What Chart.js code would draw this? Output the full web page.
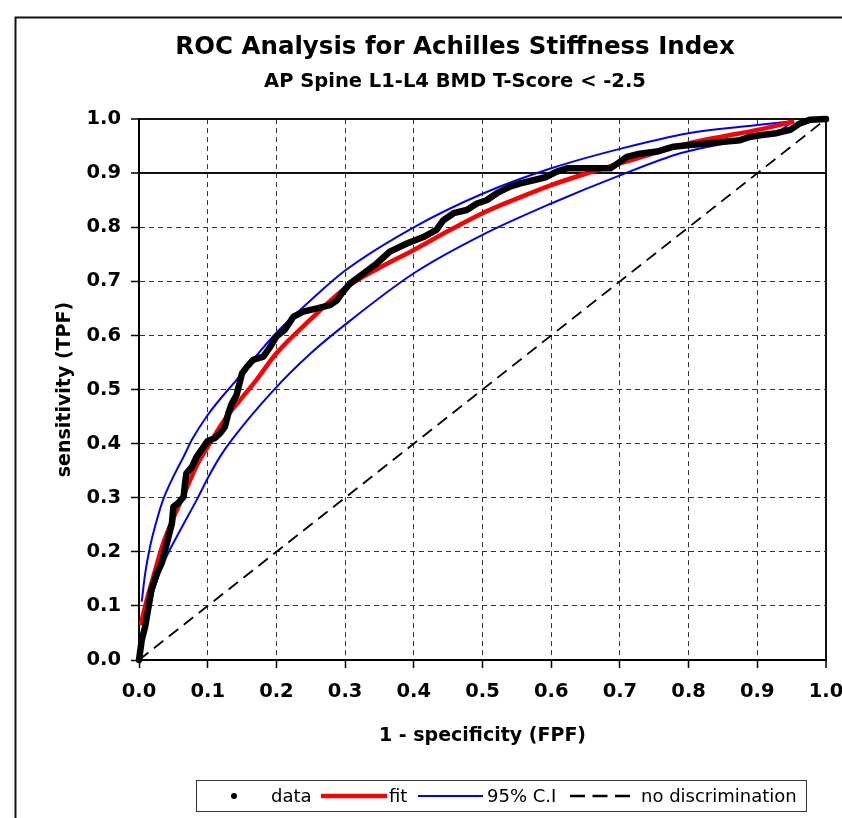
<!DOCTYPE html>
<html>
<head>
<meta charset="utf-8">
<script src="https://cdn.jsdelivr.net/npm/chart.js@4.4.0/dist/chart.umd.min.js"></script>
<style>
html, body { margin: 0; padding: 0; background: #ffffff; }
canvas { display: block; }
</style>
</head>
<body>
<canvas id="c" width="842" height="818"></canvas>
<script>
// ---- data ----
const titleText = 'ROC Analysis for Achilles Stiffness Index';
const subtitleText = 'AP Spine L1-L4 BMD T-Score < -2.5';
const xTitle = '1 - specificity (FPF)';
const yTitle = 'sensitivity (TPF)';
const tickLabels = ['0.0','0.1','0.2','0.3','0.4','0.5','0.6','0.7','0.8','0.9','1.0'];
const legendLabels = ['data', 'fit', '95% C.I', 'no discrimination'];

const dataFPF = [0, 0.004, 0.009, 0.014, 0.018, 0.026, 0.033, 0.038, 0.043, 0.048, 0.050, 0.057, 0.065, 0.067, 0.069, 0.077, 0.084, 0.094, 0.100, 0.110, 0.118, 0.125, 0.130, 0.135, 0.142, 0.147, 0.150, 0.157, 0.166, 0.181, 0.191, 0.200, 0.212, 0.225, 0.239, 0.259, 0.278, 0.288, 0.297, 0.307, 0.327, 0.346, 0.365, 0.390, 0.414, 0.433, 0.443, 0.458, 0.477, 0.492, 0.506, 0.521, 0.540, 0.555, 0.574, 0.593, 0.608, 0.623, 0.656, 0.686, 0.700, 0.710, 0.729, 0.754, 0.778, 0.802, 0.826, 0.851, 0.875, 0.889, 0.904, 0.928, 0.948, 0.962, 0.977, 1.000];
const dataTPF = [0, 0.037, 0.062, 0.099, 0.129, 0.160, 0.179, 0.203, 0.228, 0.253, 0.283, 0.290, 0.302, 0.327, 0.345, 0.357, 0.376, 0.394, 0.405, 0.410, 0.419, 0.431, 0.456, 0.474, 0.490, 0.515, 0.530, 0.542, 0.555, 0.561, 0.579, 0.598, 0.610, 0.635, 0.644, 0.650, 0.656, 0.665, 0.681, 0.696, 0.715, 0.733, 0.755, 0.770, 0.782, 0.795, 0.813, 0.826, 0.832, 0.844, 0.850, 0.863, 0.875, 0.881, 0.887, 0.893, 0.903, 0.909, 0.909, 0.909, 0.921, 0.930, 0.936, 0.940, 0.949, 0.952, 0.955, 0.958, 0.961, 0.967, 0.970, 0.974, 0.980, 0.992, 0.999, 1.000];

const fitFPF = [0.003, 0.010, 0.020, 0.035, 0.050, 0.065, 0.085, 0.100, 0.125, 0.150, 0.171, 0.200, 0.250, 0.300, 0.350, 0.400, 0.450, 0.500, 0.550, 0.600, 0.650, 0.700, 0.750, 0.800, 0.850, 0.900, 0.951];
const fitTPF = [0.068, 0.105, 0.150, 0.215, 0.262, 0.305, 0.362, 0.394, 0.445, 0.485, 0.518, 0.567, 0.630, 0.687, 0.725, 0.758, 0.793, 0.826, 0.853, 0.878, 0.899, 0.918, 0.937, 0.955, 0.968, 0.980, 0.995];

const ciUpperFPF = [0.004, 0.009, 0.016, 0.026, 0.035, 0.050, 0.065, 0.077, 0.100, 0.142, 0.200, 0.250, 0.300, 0.400, 0.500, 0.600, 0.700, 0.800, 0.900, 0.951];
const ciUpperTPF = [0.108, 0.160, 0.209, 0.259, 0.296, 0.339, 0.376, 0.407, 0.453, 0.518, 0.605, 0.665, 0.720, 0.800, 0.862, 0.909, 0.945, 0.974, 0.989, 0.996];

const ciLowerFPF = [0.005, 0.012, 0.023, 0.040, 0.060, 0.084, 0.100, 0.118, 0.135, 0.196, 0.250, 0.300, 0.400, 0.500, 0.600, 0.700, 0.788, 0.875, 0.933, 0.951];
const ciLowerTPF = [0.040, 0.085, 0.136, 0.191, 0.240, 0.296, 0.336, 0.376, 0.407, 0.499, 0.567, 0.620, 0.715, 0.786, 0.844, 0.896, 0.937, 0.961, 0.979, 0.995];

const diagFPF = [0, 1];
const diagTPF = [0, 1];

// ---- helpers ----
const pts = (xs, ys) => xs.map((x, i) => ({ x: x, y: ys[i] }));
const near = (a, b) => Math.abs(a - b) < 1e-6;

Chart.defaults.font.family = '"DejaVu Sans", "Liberation Sans", Arial, sans-serif';
Chart.defaults.color = '#000000';

const FRAME = { left: 15.5, top: 17.5, width: 2, color: '#111111' };
const LEGEND = {
  box: { x: 196.5, y: 780.5, w: 610, h: 31 },
  cy: 796,
  font: '18px "DejaVu Sans", "Liberation Sans", Arial, sans-serif',
  items: [
    { label: 0, ds: 0, kind: 'dot', x1: 234, x2: 234, tx: 271 },
    { label: 1, ds: 1, kind: 'line', x1: 321, x2: 387, tx: 389 },
    { label: 2, ds: 2, kind: 'line', x1: 418, x2: 483, tx: 487 },
    { label: 3, ds: 4, kind: 'line', x1: 570, x2: 630, tx: 641, dash: [15, 7.5] }
  ]
};

const framePlugin = {
  id: 'frame',
  beforeDraw(chart) {
    const ctx = chart.ctx;
    ctx.save();
    ctx.fillStyle = '#ffffff';
    ctx.fillRect(0, 0, chart.width, chart.height);
    ctx.strokeStyle = FRAME.color;
    ctx.lineWidth = FRAME.width;
    ctx.beginPath();
    ctx.moveTo(FRAME.left, chart.height + 2);
    ctx.lineTo(FRAME.left, FRAME.top);
    ctx.lineTo(chart.width + 2, FRAME.top);
    ctx.stroke();
    ctx.restore();
  }
};

const legendPlugin = {
  id: 'boxLegend',
  afterDraw(chart) {
    const ctx = chart.ctx;
    const L = LEGEND;
    ctx.save();
    ctx.strokeStyle = '#333333';
    ctx.lineWidth = 1;
    ctx.strokeRect(L.box.x, L.box.y, L.box.w, L.box.h);
    ctx.font = L.font;
    ctx.textBaseline = 'middle';
    ctx.textAlign = 'left';
    L.items.forEach(it => {
      const ds = chart.data.datasets[it.ds];
      ctx.save();
      if (it.kind === 'dot') {
        ctx.fillStyle = ds.borderColor;
        ctx.beginPath();
        ctx.arc(it.x1, L.cy, 3, 0, Math.PI * 2);
        ctx.fill();
      } else {
        ctx.strokeStyle = ds.borderColor;
        ctx.lineWidth = ds.legendWidth || ds.borderWidth;
        ctx.setLineDash(it.dash || ds.borderDash || []);
        ctx.beginPath();
        ctx.moveTo(it.x1, L.cy);
        ctx.lineTo(it.x2, L.cy);
        ctx.stroke();
      }
      ctx.restore();
      ctx.fillStyle = '#000000';
      ctx.fillText(legendLabels[it.label], it.tx, L.cy + 1);
    });
    ctx.restore();
  }
};

const isStrong = (c) => c.tick && (near(c.tick.value, 1) || (near(c.tick.value, 0.9) && c.scale.axis === 'y'));
const gridWidth = (c) => isStrong(c) ? 2 : 1;
const gridColor = (c) => isStrong(c) ? '#111111' : '#333333';
const gridDash = (c) => (!c.tick || isStrong(c)) ? [] : [5, 4];

const tickFont = { size: 19.5, weight: 'bold' };
const axisTitleFont = { size: 19, weight: 'bold' };

new Chart(document.getElementById('c'), {
  type: 'scatter',
  data: {
    datasets: [
      { label: legendLabels[0], data: pts(dataFPF, dataTPF), showLine: true, borderColor: '#000000', backgroundColor: '#000000', borderWidth: 6.5, pointRadius: 0, borderJoinStyle: 'round', borderCapStyle: 'round', tension: 0, clip: false, order: 1 },
      { label: legendLabels[1], data: pts(fitFPF, fitTPF), showLine: true, borderColor: '#ff0000', backgroundColor: '#ff0000', borderWidth: 4.5, pointRadius: 0, cubicInterpolationMode: 'monotone', borderCapStyle: 'round', order: 2 },
      { label: legendLabels[2], data: pts(ciUpperFPF, ciUpperTPF), showLine: true, borderColor: '#0000ff', backgroundColor: '#0000ff', borderWidth: 2, pointRadius: 0, cubicInterpolationMode: 'monotone', order: 3 },
      { label: legendLabels[2] + ' (lower)', data: pts(ciLowerFPF, ciLowerTPF), showLine: true, borderColor: '#0000ff', backgroundColor: '#0000ff', borderWidth: 2, pointRadius: 0, cubicInterpolationMode: 'monotone', order: 3 },
      { label: legendLabels[3], data: pts(diagFPF, diagTPF), showLine: true, borderColor: '#000000', backgroundColor: '#000000', borderWidth: 1.8, legendWidth: 2.5, borderDash: [12, 7], pointRadius: 0, clip: false, order: 4 }
    ]
  },
  options: {
    responsive: false,
    animation: false,
    devicePixelRatio: 1,
    events: [],
    layout: { padding: { left: 68, right: 0, top: 0, bottom: 0 } },
    plugins: {
      legend: { display: false },
      tooltip: { enabled: false },
      title: { display: true, text: titleText, color: '#000000', font: { size: 24.5, weight: 'bold' }, padding: { top: 33, bottom: 0 } },
      subtitle: { display: true, text: subtitleText, color: '#000000', font: { size: 19.5, weight: 'bold' }, padding: { top: 8, bottom: 25.3 } }
    },
    scales: {
      x: {
        type: 'linear', position: 'bottom', min: 0, max: 1,
        ticks: { stepSize: 0.1, autoSkip: false, maxRotation: 0, padding: 12, color: '#000000', font: tickFont,
                 callback: (v, i) => tickLabels[i] },
        grid: { color: gridColor, lineWidth: gridWidth, drawTicks: true, tickLength: 8, tickColor: '#000000', tickWidth: 1.5, tickBorderDash: [] },
        border: { display: true, color: '#000000', width: 2, dash: gridDash },
        title: { display: true, text: xTitle, color: '#000000', font: axisTitleFont, padding: { top: 0, bottom: 71 } },
        afterFit(s) { s.height = 158; s.paddingLeft = 0; s.paddingRight = 16; }
      },
      y: {
        type: 'linear', position: 'left', min: 0, max: 1,
        ticks: { stepSize: 0.1, autoSkip: false, padding: 10, color: '#000000', font: tickFont,
                 callback: (v, i) => tickLabels[i] },
        grid: { color: gridColor, lineWidth: gridWidth, drawTicks: true, tickLength: 8, tickColor: '#000000', tickWidth: 1.5, tickBorderDash: [] },
        border: { display: true, color: '#000000', width: 2, dash: gridDash },
        title: { display: true, text: yTitle, color: '#000000', font: axisTitleFont, padding: { top: -14, bottom: 0 } },
        afterFit(s) { s.width = 71; s.paddingTop = 0; s.paddingBottom = 0; }
      }
    }
  },
  plugins: [framePlugin, legendPlugin]
});
</script>
</body>
</html>
